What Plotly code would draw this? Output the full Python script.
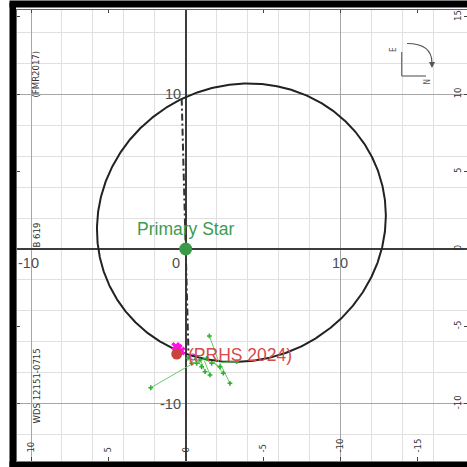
import numpy as np
import plotly.graph_objects as go

W = H = 467

# ---- orbit description (projected relative orbit, arcsec-like units) ----
orbit_center = (3.6, 1.7)
orbit_semi_axes = (9.45, 8.88)
orbit_tilt_deg = 26.7

# line of apsides (dash-dot)
apsides_x = [-0.26, 0.18]
apsides_y = [9.72, -6.75]

# primary star at the origin
primary_x = [0.0]
primary_y = [0.0]

# latest measurement (PRHS 2024)
prhs_x = [-0.58]
prhs_y = [-6.79]

# recent measurements
recent_x = [-0.48, -0.30, -0.64]
recent_y = [-6.42, -6.60, -6.30]
ring_x = [0.47]
ring_y = [-6.98]

# historical measurements and their predicted positions on the orbit
obs_x = [-2.26, 1.53, 2.86, 0.71, 1.03, 1.25, 1.57, 1.68, 2.22, 2.43, 1.36, 0.39, 0.92, 3.30, 0.15]
obs_y = [-8.97, -5.62, -8.68, -7.39, -7.61, -7.93, -8.14, -7.39, -7.61, -8.03, -7.07, -7.39, -7.18, -7.28, -7.05]
pred_x = [0.80, 2.15, 2.20, 0.55, 0.70, 0.95, 1.20, 1.40, 1.60, 1.80, 1.00, 0.40, 0.85, 2.30, 0.25]
pred_y = [-7.20, -7.33, -7.35, -7.05, -7.10, -7.15, -7.20, -7.22, -7.25, -7.28, -7.15, -7.00, -7.12, -7.33, -6.95]

# frame ticks and labels
frame_ticks = [-10, -5, 0, 5, 10, 15]
bottom_tick_text = ["10", "5", "0", "-5", "-10", "-15"]
right_tick_text = ["-10", "-5", "0", "5", "10", "15"]
axis_num_y = [10, -10]
axis_num_x = [-10, 10]

# plot area in pixels and scale
SCALE = 15.47           # pixels per unit
ORIGIN_PX = (185.7, 249.0)
AREA_LEFT, AREA_RIGHT, AREA_TOP, AREA_BOTTOM = 16.5, 467.0, 10.0, 461.0
XR = [(AREA_LEFT - ORIGIN_PX[0]) / SCALE, (AREA_RIGHT - ORIGIN_PX[0]) / SCALE]
YR = [(ORIGIN_PX[1] - AREA_BOTTOM) / SCALE, (ORIGIN_PX[1] - AREA_TOP) / SCALE]


def pxx(px):
    return px / W


def pxy(py):
    return 1 - py / H


# ellipse outline from the orbit description
t = np.linspace(0, 2 * np.pi, 721)
cx, cy = orbit_center
a, b = orbit_semi_axes
th = np.radians(orbit_tilt_deg)
ex = cx + a * np.cos(t) * np.cos(th) - b * np.sin(t) * np.sin(th)
ey = cy + a * np.cos(t) * np.sin(th) + b * np.sin(t) * np.cos(th)

res_x, res_y = [], []
for ox, oy, qx, qy in zip(obs_x, obs_y, pred_x, pred_y):
    res_x += [ox, qx, None]
    res_y += [oy, qy, None]

fig = go.Figure()

fig.add_trace(go.Scatter(x=ex, y=ey, mode="lines",
                         line=dict(color="#222222", width=2), hoverinfo="skip"))
fig.add_trace(go.Scatter(x=apsides_x, y=apsides_y, mode="lines",
                         line=dict(color="#333333", width=2, dash="7px,3px,2px,3px"),
                         hoverinfo="skip"))
fig.add_trace(go.Scatter(x=res_x, y=res_y, mode="lines",
                         line=dict(color="#66cc66", width=1), hoverinfo="skip"))
fig.add_trace(go.Scatter(x=obs_x, y=obs_y, mode="markers",
                         marker=dict(symbol="cross", size=4, color="#2fb02f"),
                         hoverinfo="skip"))
fig.add_trace(go.Scatter(x=recent_x, y=recent_y, mode="markers",
                         marker=dict(symbol="x", size=8, color="#ff10e0"),
                         hoverinfo="skip"))
fig.add_trace(go.Scatter(x=ring_x, y=ring_y, mode="markers",
                         marker=dict(symbol="circle-open", size=6, color="#b030c0",
                                     line=dict(width=1.2)),
                         hoverinfo="skip"))
fig.add_trace(go.Scatter(x=prhs_x, y=prhs_y, mode="markers",
                         marker=dict(symbol="circle", size=11, color="#c9443c"),
                         hoverinfo="skip"))
fig.add_trace(go.Scatter(x=primary_x, y=primary_y, mode="markers",
                         marker=dict(symbol="circle", size=13, color="#3a9a4a"),
                         hoverinfo="skip"))

# empty traces so the frame axes get their own subplots
for xa, ya in [("x2", "y"), ("x3", "y"), ("x", "y2"), ("x", "y3")]:
    fig.add_trace(go.Scatter(x=[None], y=[None], xaxis=xa, yaxis=ya,
                             mode="markers", hoverinfo="skip"))

small_font = dict(family="Liberation Sans Narrow, DejaVu Sans Condensed, sans-serif",
                  size=9.5, color="#333333")

grid_axis = dict(range=XR, tick0=0, dtick=10, showgrid=True, gridcolor="#a6a6a6",
                 gridwidth=1,
                 minor=dict(tick0=0, dtick=2, showgrid=True, gridcolor="#e0e0e0",
                            gridwidth=1),
                 zeroline=True, zerolinecolor="#3c3c3c", zerolinewidth=2,
                 showticklabels=False, ticks="", showline=False, fixedrange=True)

xaxis = dict(grid_axis, domain=[pxx(AREA_LEFT), 1], anchor="y")
yaxis = dict(grid_axis, range=YR, domain=[pxy(AREA_BOTTOM), pxy(AREA_TOP)], anchor="x")

fig.update_layout(
    width=W, height=H, margin=dict(l=0, r=0, t=0, b=0, pad=0),
    paper_bgcolor="white", plot_bgcolor="white", showlegend=False,
    xaxis=xaxis, yaxis=yaxis,
    xaxis2=dict(overlaying="x", anchor="y", side="top", range=XR,
                tickvals=frame_ticks, ticks="inside", ticklen=3, tickcolor="#444444",
                showticklabels=False, showgrid=False, zeroline=False,
                showline=True, linecolor="#666666", linewidth=1, fixedrange=True),
    xaxis3=dict(overlaying="x", anchor="y", side="bottom", range=XR,
                tickvals=frame_ticks, ticktext=bottom_tick_text,
                ticks="inside", ticklen=4, tickcolor="#444444",
                ticklabelposition="inside", tickangle=-90, tickfont=small_font,
                showgrid=False, zeroline=False, showline=False, fixedrange=True),
    yaxis2=dict(overlaying="y", anchor="x", side="left", range=YR,
                tickvals=frame_ticks, ticks="inside", ticklen=3, tickcolor="#444444",
                showticklabels=False, showgrid=False, zeroline=False,
                showline=True, linecolor="#666666", linewidth=1, fixedrange=True),
    yaxis3=dict(overlaying="y", anchor="x", side="right", range=YR,
                tickvals=frame_ticks, ticktext=right_tick_text,
                ticks="inside", ticklen=3, tickcolor="#444444",
                ticklabelposition="inside", tickangle=-90, tickfont=small_font,
                showgrid=False, zeroline=False, showline=False, fixedrange=True),
)

ann = []
num_font = dict(family="Liberation Sans, Arial, sans-serif", size=14.5, color="#4d4d4d")
for v in axis_num_y:
    ann.append(dict(x=0, y=v, xref="x", yref="y", text=str(v), showarrow=False,
                    xanchor="right", yanchor="middle", xshift=-3, font=num_font))
for v in axis_num_x:
    ann.append(dict(x=v, y=0, xref="x", yref="y", text=str(v), showarrow=False,
                    xanchor="center", yanchor="top", yshift=-4,
                    xshift=-3 if v < 0 else 0, font=num_font))
ann.append(dict(x=0, y=0, xref="x", yref="y", text="0", showarrow=False,
                xanchor="right", yanchor="top", xshift=-4, yshift=-4, font=num_font))

label_font = dict(family="Liberation Sans, Arial, sans-serif", size=17.5)
ann.append(dict(x=primary_x[0], y=primary_y[0], xref="x", yref="y", text="Primary Star",
                showarrow=False, xanchor="center", yanchor="middle", yshift=20,
                font=dict(label_font, color="#3d9b50")))
ann.append(dict(x=prhs_x[0], y=prhs_y[0], xref="x", yref="y", text="(PRHS 2024)",
                showarrow=False, xanchor="left", yanchor="middle", xshift=9, yshift=-1,
                font=dict(label_font, color="#d64b4b")))

# rotated captions along the left edge
for txt, py in [("(FMR2017)", 74), ("B 619", 235), ("WDS 12151-0715", 386)]:
    ann.append(dict(x=pxx(35.5), y=pxy(py), xref="paper", yref="paper", text=txt,
                    showarrow=False, textangle=-90, xanchor="center", yanchor="middle",
                    font=small_font))

# compass
comp_font = dict(family="Liberation Sans Narrow, DejaVu Sans Condensed, sans-serif",
                 size=8, color="#555555")
ann.append(dict(x=pxx(400.5), y=pxy(45.5), xref="paper", yref="paper", text="E",
                showarrow=False, textangle=-90, font=comp_font))
ann.append(dict(x=pxx(433), y=pxy(77.5), xref="paper", yref="paper", text="N",
                showarrow=False, textangle=-90, font=comp_font))
ann.append(dict(x=pxx(432), y=pxy(68), xref="paper", yref="paper", text="",
                showarrow=True, ax=0, ay=-7, arrowhead=2, arrowsize=1.1, arrowwidth=1.1,
                arrowcolor="#555555"))

shapes = [
    dict(type="line", xref="paper", yref="paper", x0=pxx(401.7), y0=pxy(52),
         x1=pxx(401.7), y1=pxy(76), line=dict(color="#666666", width=1.2)),
    dict(type="line", xref="paper", yref="paper", x0=pxx(401.7), y0=pxy(76),
         x1=pxx(426), y1=pxy(76), line=dict(color="#666666", width=1.2)),
    dict(type="path", xref="paper", yref="paper",
         path=f"M {pxx(407)} {pxy(43.5)} Q {pxx(432)} {pxy(43.5)} {pxx(432)} {pxy(63)}",
         line=dict(color="#555555", width=1.2)),
    # black frame bars
    dict(type="rect", xref="paper", yref="paper", x0=pxx(9.5), x1=pxx(16),
         y0=0, y1=pxy(3), fillcolor="black", line=dict(width=0), layer="above"),
    dict(type="rect", xref="paper", yref="paper", x0=pxx(9.5), x1=1,
         y0=pxy(7.5), y1=pxy(0.5), fillcolor="black", line=dict(width=0), layer="above"),
    dict(type="rect", xref="paper", yref="paper", x0=pxx(9.5), x1=1,
         y0=0, y1=pxy(461.5), fillcolor="black", line=dict(width=0), layer="above"),
]

fig.update_layout(annotations=ann, shapes=shapes)
fig.write_html("out.html")
